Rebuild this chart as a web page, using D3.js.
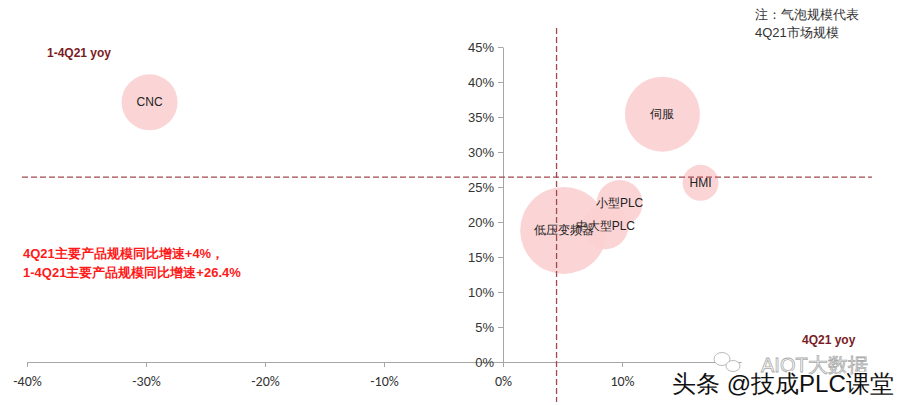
<!DOCTYPE html>
<html>
<head>
<meta charset="utf-8">
<script src="https://cdn.jsdelivr.net/npm/d3@7"></script>
<style>
  body { margin: 0; background: #fff; }
  svg { display: block; font-family: Arial, "Liberation Sans", sans-serif; }
</style>
</head>
<body>
<div class="chart"></div>
<script>
// data
var names = ["CNC", "伺服", "HMI", "小型PLC", "中大型PLC", "低压变频器"];
var yoy4Q = [-29.7, 13.4, 16.6, 9.8, 8.6, 5.1];        // x: 4Q21 yoy (%)
var yoyFull = [37.1, 35.4, 25.6, 22.7, 19.4, 18.8];    // y: 1-4Q21 yoy (%)
var marketSize = [28, 37.5, 18, 23, 23, 43.5];         // bubble size (4Q21 market size)
var xTicks = [-40, -30, -20, -10, 0, 10];
var yTicks = [0, 5, 10, 15, 20, 25, 30, 35, 40, 45];
var avgX = 4.5, avgY = 26.4;

var width = 899, height = 405;

var svg = d3.select(".chart")
    .append("svg")
    .attr("width", width)
    .attr("height", height);

var x = d3.scaleLinear().domain([-40, 20]).range([27, 741]);
var y = d3.scaleLinear().domain([0, 45]).range([362, 47]);
var r = d3.scaleLinear().domain([0, 43.5]).range([0, 43.5]);

var data = names.map(function(n, i) {
  return {name: n, x: yoy4Q[i], y: yoyFull[i], s: marketSize[i]};
});

// x axis
var xAxis = svg.append("g")
    .attr("transform", "translate(0," + y(0) + ")")
    .call(d3.axisBottom(x).tickValues(xTicks).tickSize(5).tickSizeOuter(0)
      .tickFormat(function(d) { return d + "%"; }));
xAxis.select(".domain").attr("stroke", "#a6a6a6");
xAxis.selectAll(".tick line").attr("stroke", "#a6a6a6");
xAxis.selectAll(".tick text").attr("fill", "#333").attr("dy", "1.15em")
    .style("font-family", "Carlito, Calibri, 'Liberation Sans', sans-serif").style("font-size", "14px");

// y axis
var yAxis = svg.append("g")
    .attr("transform", "translate(" + x(0) + ",0)")
    .call(d3.axisLeft(y).tickValues(yTicks).tickSize(5).tickSizeOuter(0)
      .tickFormat(function(d) { return d + "%"; }));
yAxis.select(".domain").attr("stroke", "#a6a6a6");
yAxis.selectAll(".tick line").attr("stroke", "#a6a6a6");
yAxis.selectAll(".tick text").attr("fill", "#333").attr("x", -9).style("font-size", "13px");

// bubbles
svg.selectAll("circle.bubble")
    .data(data)
  .enter().append("circle")
    .attr("class", "bubble")
    .attr("cx", function(d) { return x(d.x); })
    .attr("cy", function(d) { return y(d.y); })
    .attr("r", function(d) { return r(d.s); })
    .style("fill", "#fbd0d1")
    .style("opacity", 0.9);

// average lines
svg.append("line")
    .attr("x1", 22).attr("x2", 872)
    .attr("y1", y(avgY)).attr("y2", y(avgY))
    .attr("stroke", "#a3484d").attr("stroke-width", 1.3).attr("stroke-dasharray", "6,3");
svg.append("line")
    .attr("x1", x(avgX)).attr("x2", x(avgX))
    .attr("y1", 28).attr("y2", 402)
    .attr("stroke", "#a3484d").attr("stroke-width", 1.3).attr("stroke-dasharray", "6,3");

// bubble labels
svg.selectAll("text.blabel")
    .data(data)
  .enter().append("text")
    .attr("class", "blabel")
    .attr("x", function(d) { return x(d.x); })
    .attr("y", function(d) { return y(d.y); })
    .attr("text-anchor", "middle")
    .attr("dominant-baseline", "central")
    .style("font-size", "12px")
    .style("fill", "#222")
    .text(function(d) { return d.name; });

// annotations
svg.append("text").attr("x", 47).attr("y", 57).text("1-4Q21 yoy")
    .style("fill", "#7a1c1f").style("font-size", "12px").style("font-weight", "bold");
svg.append("text").attr("x", 802).attr("y", 344).text("4Q21 yoy")
    .style("fill", "#7a1c1f").style("font-size", "12px").style("font-weight", "bold");
svg.append("text").attr("x", 23).attr("y", 258).text("4Q21主要产品规模同比增速+4%，")
    .style("fill", "#ff1a1a").style("font-size", "13px").style("font-weight", "bold");
svg.append("text").attr("x", 23).attr("y", 277).text("1-4Q21主要产品规模同比增速+26.4%")
    .style("fill", "#ff1a1a").style("font-size", "13px").style("font-weight", "bold");
svg.append("text").attr("x", 755).attr("y", 19).text("注：气泡规模代表")
    .style("fill", "#333").style("font-size", "13px");
svg.append("text").attr("x", 755).attr("y", 37).text("4Q21市场规模")
    .style("fill", "#333").style("font-size", "13px");

// watermark
var wm = svg.append("g");
wm.append("ellipse").attr("cx", 722).attr("cy", 359).attr("rx", 8).attr("ry", 6.5)
    .attr("fill", "#fff").attr("stroke", "#bbb").attr("stroke-width", 1);
wm.append("ellipse").attr("cx", 733).attr("cy", 366).attr("rx", 7).attr("ry", 5.5)
    .attr("fill", "#fff").attr("stroke", "#bbb").attr("stroke-width", 1);
wm.append("text").attr("x", 761).attr("y", 372).text("AIOT大数据")
    .style("fill", "#fff").style("stroke", "#aaa").style("stroke-width", 0.8)
    .style("font-size", "20px");
wm.append("text").attr("x", 672).attr("y", 392).text("头条 @技成PLC课堂")
    .style("fill", "#111").style("stroke", "#fff").style("stroke-width", 2.5)
    .style("paint-order", "stroke").style("font-size", "24px");
</script>
</body>
</html>
